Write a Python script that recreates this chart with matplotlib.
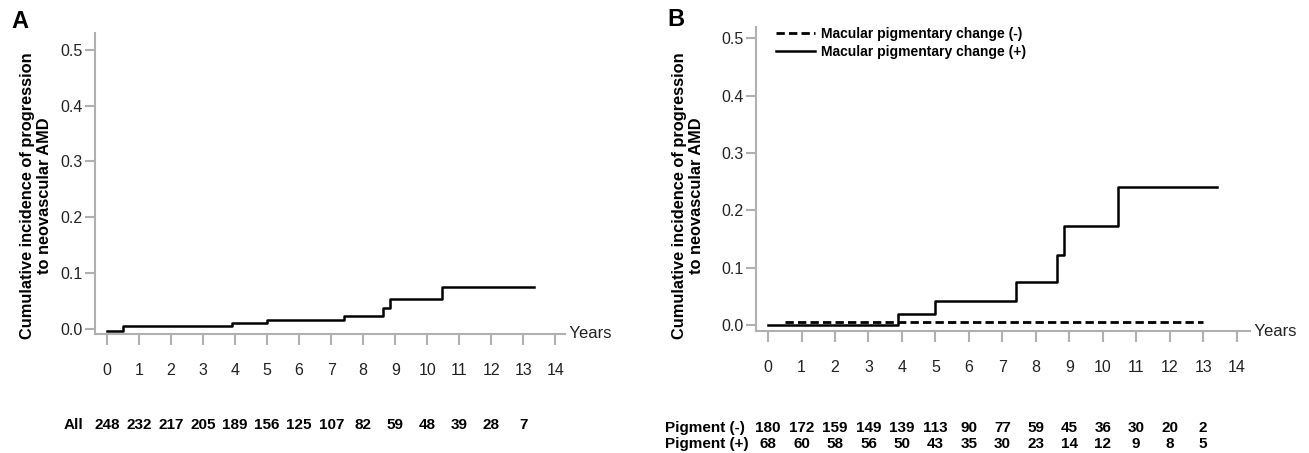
import matplotlib.pyplot as plt
import matplotlib.transforms as mtransforms

plt.rcParams['font.family'] = ['Liberation Sans', 'DejaVu Sans']

# --- data ---
years = list(range(15))

# panel A: all eyes
a_t = [0, 0.49, 3.89, 4.99, 7.41, 8.62, 8.84, 10.45, 13.34]
a_y = [-0.003, 0.006, 0.011, 0.016, 0.024, 0.038, 0.054, 0.075, 0.075]
a_risk = [248, 232, 217, 205, 189, 156, 125, 107, 82, 59, 48, 39, 28, 7]

# panel B: pigment (+) solid, pigment (-) dashed
bp_t = [0, 3.88, 4.99, 7.42, 8.64, 8.84, 10.45, 13.4]
bp_y = [0.0, 0.019, 0.041, 0.075, 0.122, 0.173, 0.241, 0.241]
bm_t = [0.5, 13.0]
bm_y = [0.006, 0.006]
b_risk_minus = [180, 172, 159, 149, 139, 113, 90, 77, 59, 45, 36, 30, 20, 2]
b_risk_plus = [68, 60, 58, 56, 50, 43, 35, 30, 23, 14, 12, 9, 8, 5]

yticks = [0.0, 0.1, 0.2, 0.3, 0.4, 0.5]
ylab = 'Cumulative incidence of progression\nto neovascular AMD'

W, H = 1309, 453
fig = plt.figure(figsize=(W / 100, H / 100), dpi=100)

spine_c = '#b0b0b0'
txt_c = '#222222'


def px_box(left, right, top, bottom):
    return [left / W, 1 - bottom / H, (right - left) / W, (bottom - top) / H]


def style(ax, xlim, ylim):
    ax.set_xlim(*xlim)
    ax.set_ylim(*ylim)
    for s in ['top', 'right']:
        ax.spines[s].set_visible(False)
    for s in ['left', 'bottom']:
        ax.spines[s].set_color(spine_c)
        ax.spines[s].set_linewidth(1.5)
    ax.set_xticks(years)
    ax.set_yticks(yticks)
    ax.set_yticklabels(['%.1f' % v for v in yticks])
    ax.tick_params(axis='x', length=8, width=1.5, color=spine_c, pad=13,
                   labelsize=11.5, labelcolor=txt_c)
    ax.tick_params(axis='y', length=7, width=1.5, color=spine_c, pad=2,
                   labelsize=11.5, labelcolor=txt_c)


# ---------- panel A ----------
axA = fig.add_axes(px_box(95, 565, 33, 334))
style(axA, (-0.375, 14.3), (-0.009, 0.53))
axA.step(a_t, a_y, where='post', color='black', lw=1.8)
axA.text(1.0, 0.0, ' Years', transform=axA.transAxes, ha='left', va='center',
         fontsize=12, color=txt_c)
trA = mtransforms.blended_transform_factory(axA.transData, fig.transFigure)
for x, n in zip(years, a_risk):
    axA.text(x, 1 - 425 / H, str(n), transform=trA, ha='center', va='center',
             fontsize=11, fontweight='bold', clip_on=False)
fig.text(83 / W, 1 - 425 / H, 'All', ha='right', va='center',
         fontsize=11, fontweight='bold')
fig.text(36 / W, 1 - 196 / H, ylab, rotation=90, ha='center', va='center',
         multialignment='center', fontsize=11.8, fontweight='bold', linespacing=1.2)
fig.text(11 / W, 1 - 21 / H, 'A', fontsize=17, fontweight='bold',
         ha='left', va='center')

# ---------- panel B ----------
axB = fig.add_axes(px_box(756, 1250, 27, 331))
style(axB, (-0.36, 14.4), (-0.0105, 0.52))
axB.step(bm_t, bm_y, where='post', color='black', lw=2,
         linestyle=(0, (3, 1.5)), label='Macular pigmentary change (-)')
axB.step(bp_t, bp_y, where='post', color='black', lw=1.8,
         label='Macular pigmentary change (+)')
axB.text(1.0, 0.0, ' Years', transform=axB.transAxes, ha='left', va='center',
         fontsize=12, color=txt_c)
leg = axB.legend(loc='upper left', bbox_to_anchor=(20 / 494, 1.0), frameon=False,
                 prop={'size': 10, 'weight': 'bold'}, handlelength=2.8,
                 handletextpad=0.45, labelspacing=0.3, borderaxespad=0.0,
                 borderpad=0.0)
trB = mtransforms.blended_transform_factory(axB.transData, fig.transFigure)
for x, n1, n2 in zip(years, b_risk_minus, b_risk_plus):
    axB.text(x, 1 - 428 / H, str(n1), transform=trB, ha='center', va='center',
             fontsize=11, fontweight='bold', clip_on=False)
    axB.text(x, 1 - 444 / H, str(n2), transform=trB, ha='center', va='center',
             fontsize=11, fontweight='bold', clip_on=False)
fig.text(665 / W, 1 - 428 / H, 'Pigment (-)', ha='left', va='center',
         fontsize=11, fontweight='bold')
fig.text(665 / W, 1 - 444 / H, 'Pigment (+)', ha='left', va='center',
         fontsize=11, fontweight='bold')
fig.text(688 / W, 1 - 196 / H, ylab, rotation=90, ha='center', va='center',
         multialignment='center', fontsize=11.8, fontweight='bold', linespacing=1.2)
fig.text(667 / W, 1 - 20 / H, 'B', fontsize=17, fontweight='bold',
         ha='left', va='center')

fig.savefig('out.png', dpi=100)
